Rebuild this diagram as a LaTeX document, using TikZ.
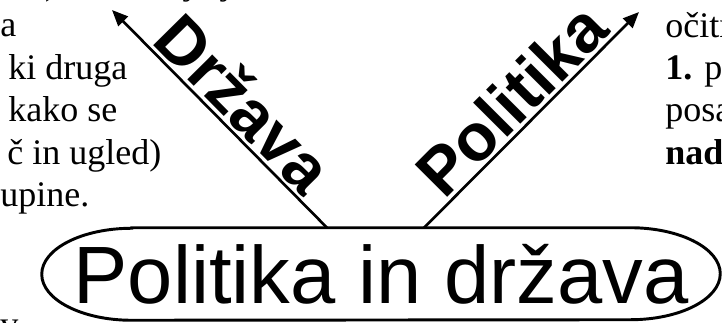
\documentclass[tikz,border=0pt]{standalone}
\usepackage{fontspec}
\setmainfont{Liberation Serif}
\newfontfamily\arialfont{Liberation Sans}
\usetikzlibrary{arrows.meta}

\begin{document}
\begin{tikzpicture}[x=0.75pt,y=-0.75pt,
  txt/.style={anchor=base west,inner sep=0pt,font=\fontsize{27}{31.5}\selectfont},
  lbl/.style={sloped,above,pos=#1,inner sep=2pt,font=\fontsize{50}{50}\arialfont\bfseries},
  arr/.style={-{Triangle[length=12pt,width=10pt]},line width=2pt},
  ttl/.style={minimum width=508.5pt,minimum height=69pt,inner sep=0pt,font=\fontsize{61}{61}\arialfont},
  frm/.style={line width=2.2pt}]
  \useasboundingbox (0,0) rectangle (722,323);
  \clip (0,0) rectangle (722,323);
  \node[ttl] (pd) at (381,274) {Politika in država};
  \draw[frm] ([xshift=67.5pt]pd.north west) -- ([xshift=-67.5pt]pd.north east)
    arc[start angle=-90,end angle=90,x radius=90,y radius=46]
    -- ([xshift=67.5pt]pd.south west)
    arc[start angle=90,end angle=270,x radius=90,y radius=46] -- cycle;
  \coordinate (dtip) at (112,10);
  \coordinate (ptip) at (639,12);
  \draw[arr] ([xshift=-40.5pt]pd.north) -- node[lbl=0.48] {Država} (dtip);
  \draw[arr] ([xshift=32.25pt]pd.north) -- node[lbl=0.5] {Politika} (ptip);
  \node[txt] (l0) at (-29,-5) {(moč), tisti, ki jo je};
  \node[txt] (l1) at (0,37) {a};
  \node[txt] (l2) at (8,80) {ki druga};
  \node[txt] (l3) at (8,122) {kako se};
  \node[txt] (l4) at (7,165) {č in ugled)};
  \node[txt] (l5) at (0,207) {upine.};
  \node[txt] (l6) at (0,337) {v};
  \node[txt] (r1) at (665,38) {očitn};
  \node[txt] (r2) at (665,80) {\textbf{1.} po};
  \node[txt] (r3) at (665,122) {posa};
  \node[txt] (r4) at (665,165) {\textbf{nad}};
\end{tikzpicture}
\end{document}
